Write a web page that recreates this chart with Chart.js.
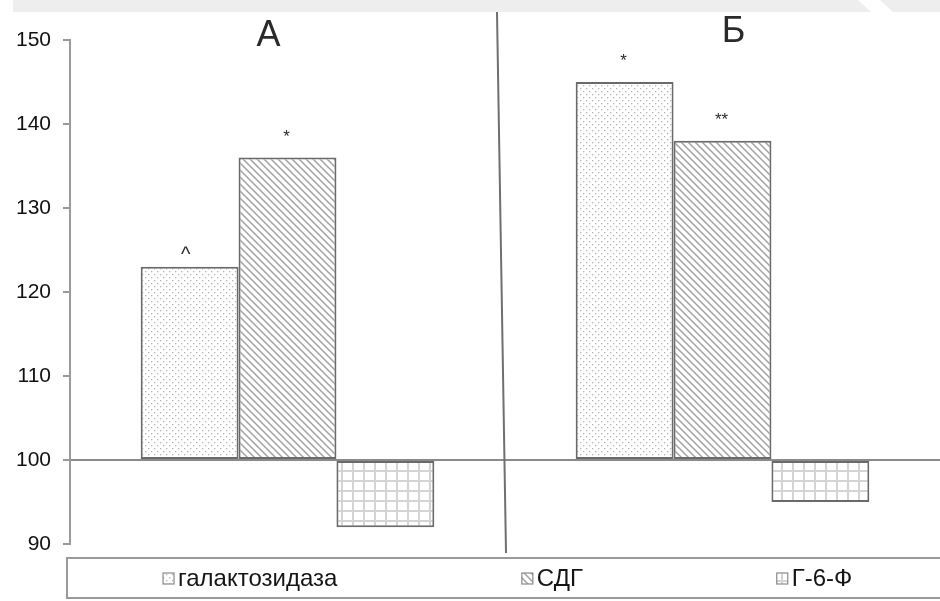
<!DOCTYPE html>
<html><head><meta charset="utf-8">
<script src="https://cdn.jsdelivr.net/npm/chart.js@4.4.1/dist/chart.umd.min.js"></script>
<style>html,body{margin:0;padding:0;background:#fff;}#wrap{width:940px;height:601px;}</style>
</head><body><div id="wrap"><canvas id="c" width="940" height="601"></canvas></div>
<script>
const groups = ['А', 'Б'];
const seriesNames = ['галактозидаза', 'СДГ', 'Г-6-Ф'];
const galValues = [123, 145];
const sdgValues = [136, 138];
const g6fValues = [92, 95];
const galMarks = ['^', '*'];
const sdgMarks = ['*', '**'];
const g6fMarks = ['', ''];
const yMin = 90, yMax = 150, yStep = 10, baseValue = 100;

const FONT = "'Liberation Sans', Arial, sans-serif";

function makePattern(type) {
  const c = document.createElement('canvas');
  const x = c.getContext('2d');
  if (type === 'dots') {
    c.width = 6; c.height = 6;
    x.fillStyle = '#fff'; x.fillRect(0, 0, 6, 6);
    x.fillStyle = '#b4b4b4';
    x.fillRect(1, 1, 1.3, 1.3); x.fillRect(4, 4, 1.3, 1.3);
  } else if (type === 'diag') {
    c.width = 7; c.height = 7;
    x.fillStyle = '#fff'; x.fillRect(0, 0, 7, 7);
    x.strokeStyle = '#a2a2a2'; x.lineWidth = 1.5;
    x.beginPath();
    x.moveTo(-1, -1); x.lineTo(8, 8);
    x.moveTo(-1, 6); x.lineTo(1, 8);
    x.moveTo(6, -1); x.lineTo(8, 1);
    x.stroke();
  } else {
    c.width = 11; c.height = 10;
    x.fillStyle = '#fff'; x.fillRect(0, 0, 11, 10);
    x.fillStyle = '#d4d4d4';
    x.fillRect(0, 0, 2, 10); x.fillRect(0, 0, 11, 2);
  }
  return x.createPattern(c, 'repeat');
}

const patterns = [makePattern('dots'), makePattern('diag'), makePattern('grid')];
const valueSets = [galValues, sdgValues, g6fValues];
const markSets = [galMarks, sdgMarks, g6fMarks];

const decor = {
  id: 'decor',
  beforeDraw(chart) {
    const ctx = chart.ctx;
    ctx.save();
    ctx.fillStyle = '#eeeeee';
    ctx.fillRect(13, 0, chart.width - 13, 12);
    ctx.fillStyle = '#ffffff';
    ctx.beginPath();
    ctx.moveTo(858, 0); ctx.lineTo(880, 0); ctx.lineTo(893, 12); ctx.lineTo(871, 12);
    ctx.closePath(); ctx.fill();
    ctx.restore();
  },
  afterDatasetsDraw(chart) {
    const ctx = chart.ctx;
    const xs = chart.scales.x, ys = chart.scales.y;
    const area = chart.chartArea;
    ctx.save();
    const mid = (xs.getPixelForValue(0) + xs.getPixelForValue(1)) / 2;
    ctx.strokeStyle = '#6f6f6f'; ctx.lineWidth = 2;
    ctx.beginPath(); ctx.moveTo(mid - 8, 12); ctx.lineTo(mid + 1, area.bottom + 9); ctx.stroke();
    ctx.fillStyle = '#2a2a2a';
    ctx.font = '36px ' + FONT;
    ctx.textAlign = 'center'; ctx.textBaseline = 'alphabetic';
    ctx.fillText(groups[0], xs.getPixelForValue(0) - 19, ys.getPixelForValue(yMax) + 6);
    ctx.fillText(groups[1], xs.getPixelForValue(1) + 11, ys.getPixelForValue(yMax) + 2);
    chart.data.datasets.forEach((ds, di) => {
      const meta = chart.getDatasetMeta(di);
      meta.data.forEach((bar, i) => {
        const m = markSets[di][i];
        if (!m) return;
        const top = Math.min(bar.y, bar.base);
        if (m === '^') {
          ctx.font = '20px ' + FONT;
          ctx.fillText(m, bar.x - 4, top - 6);
        } else {
          ctx.font = '17px ' + FONT;
          ctx.fillText(m, bar.x - 1, top - 16);
        }
      });
    });
    ctx.restore();
  },
  afterDraw(chart) {
    const ctx = chart.ctx;
    const area = chart.chartArea;
    const left = area.left - 3, top = area.bottom + 14, w = chart.width - left + 2, h = 40;
    ctx.save();
    ctx.strokeStyle = '#9a9a9a'; ctx.lineWidth = 2;
    ctx.strokeRect(left, top, w, h);
    const fracs = [0.11, 0.521, 0.813];
    ctx.font = '24px ' + FONT;
    ctx.textBaseline = 'middle'; ctx.textAlign = 'left';
    chart.data.datasets.forEach((ds, i) => {
      const bx = left + fracs[i] * (chart.width - left);
      const cy = top + h / 2;
      ctx.fillStyle = ds.backgroundColor;
      ctx.fillRect(bx, cy - 5, 11, 11);
      ctx.strokeStyle = '#8a8a8a'; ctx.lineWidth = 1.2;
      ctx.strokeRect(bx, cy - 5, 11, 11);
      ctx.fillStyle = '#151515';
      ctx.fillText(ds.label, bx + 15, cy + 1);
    });
    ctx.restore();
  }
};

new Chart(document.getElementById('c'), {
  type: 'bar',
  data: {
    labels: groups,
    datasets: seriesNames.map((name, i) => ({
      label: name,
      data: valueSets[i],
      base: baseValue,
      backgroundColor: patterns[i],
      borderColor: '#6a6a6a',
      borderWidth: 2,
      borderSkipped: false,
      barPercentage: 1,
      categoryPercentage: 0.675
    }))
  },
  options: {
    responsive: false,
    animation: false,
    devicePixelRatio: 1,
    layout: { padding: { left: 0, right: -5, top: 40, bottom: 57 } },
    plugins: { legend: { display: false }, tooltip: { enabled: false } },
    scales: {
      x: { display: false },
      y: {
        min: yMin, max: yMax,
        afterFit(s) { s.width = 70; },
        border: { display: true, color: '#9a9a9a', width: 2 },
        grid: {
          drawTicks: true, tickLength: 7, tickColor: '#9a9a9a', tickWidth: 2,
          color: c => (c.tick && c.tick.value === baseValue) ? '#8a8a8a' : 'rgba(0,0,0,0)',
          lineWidth: 2
        },
        ticks: { stepSize: yStep, padding: 12, color: '#111', font: { family: FONT, size: 21 } }
      }
    }
  },
  plugins: [decor]
});
</script></body></html>
